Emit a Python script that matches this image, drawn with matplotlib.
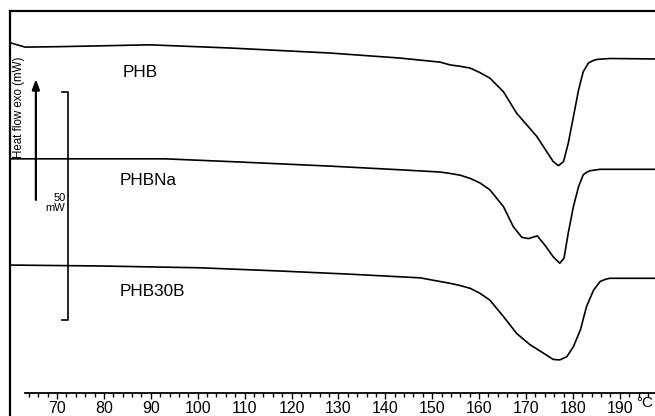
import matplotlib
matplotlib.use("Agg")
import matplotlib.pyplot as plt
from matplotlib.ticker import MultipleLocator

plt.rcParams['font.family'] = ['Liberation Sans', 'DejaVu Sans']

# Temperature (°C) and heat flow (mW, curves vertically offset)
phb_T = [60.2, 63.2, 70.6, 89.8, 106.9, 128.2, 143.1, 151.7, 153.8, 155.9, 158.1, 160.2,
         162.3, 165.2, 168.0, 170.2, 172.3, 174.4, 175.8, 176.9, 178.0, 179.0, 180.1,
         181.2, 182.2, 183.3, 184.2, 185.1, 187.9, 197.5]
phb_H = [81.8, 80.9, 81.0, 81.4, 80.7, 79.6, 78.5, 77.6, 77.0, 76.7, 76.3, 75.3,
         74.1, 71.1, 66.4, 63.8, 61.3, 58.0, 55.8, 54.9, 55.8, 59.8, 65.6,
         71.5, 75.5, 77.4, 77.9, 78.2, 78.4, 78.3]

phbna_T = [60.2, 72.8, 93.0, 109.0, 128.2, 143.1, 151.7, 153.8, 156.0, 158.1, 160.2, 162.3,
           165.2, 167.3, 169.1, 170.5, 172.4, 174.0, 175.8, 177.2, 178.1, 179.0, 180.1,
           181.2, 182.2, 183.0, 183.7, 185.8, 197.5]
phbna_H = [56.4, 56.4, 56.4, 55.7, 54.8, 54.0, 53.5, 53.2, 52.8, 52.1, 51.1, 49.6,
           45.9, 41.5, 39.2, 38.9, 39.5, 37.5, 34.9, 33.5, 34.6, 40.1, 45.9,
           50.3, 52.9, 53.5, 53.8, 54.1, 54.1]

phb30b_T = [60.2, 79.2, 100.5, 117.5, 132.5, 147.4, 153.8, 156.0, 158.1, 160.2, 162.3,
            165.2, 168.0, 170.9, 173.7, 175.8, 177.2, 178.7, 180.1, 181.6, 182.9, 184.4,
            185.8, 187.0, 187.9, 197.5]
phb30b_H = [33.1, 32.9, 32.5, 31.8, 31.1, 30.3, 29.1, 28.6, 28.0, 26.9, 25.4,
            21.8, 18.1, 15.6, 13.8, 12.4, 12.3, 13.0, 15.2, 18.9, 24.0, 27.6,
            29.5, 30.0, 30.2, 30.2]

names = ["PHB", "PHBNa", "PHB30B"]
label_T = [87.7, 89.4, 90.3]
label_H = [75.4, 51.75, 27.4]

tick_major = list(range(70, 191, 10))

W, H = 655, 416
fig = plt.figure(figsize=(W / 100, H / 100), dpi=100)
ax = fig.add_axes([0, 0, 1, 1])
ax.set_xlim(57.85, 197.5)
ax.set_ylim(0, 91.23)
ax.axis('off')

# frame (left and top)
ax.plot([60.0, 60.0], [0, 88.8], color='black', lw=1.6, solid_capstyle='projecting')
ax.plot([60.0, 197.5], [88.8, 88.8], color='black', lw=1.6, solid_capstyle='projecting')

for T, Hf in [(phb_T, phb_H), (phbna_T, phbna_H), (phb30b_T, phb30b_H)]:
    ax.plot(T, Hf, color='black', lw=1.2, solid_joinstyle='round')

for n, tx, ty in zip(names, label_T, label_H):
    ax.text(tx, ty, n, fontsize=12.3, ha='center', va='center')

# y label and arrow
ax.text(62.0, 67.8, "Heat flow exo (mW)", rotation=90, fontsize=8.3, ha='center', va='center')
ax.annotate("", xy=(65.5, 73.9), xytext=(65.5, 47.4),
            arrowprops=dict(arrowstyle='-|>,head_length=0.6,head_width=0.22', color='black', lw=1.6,
                            shrinkA=0, shrinkB=0))

# 50 mW scale bar
ax.plot([71.07, 72.35, 72.35, 71.07], [71.05, 71.05, 21.05, 21.05], color='black', lw=1.2)
ax.text(71.8, 46.7, "50\nmW", fontsize=8, ha='right', va='center', linespacing=1.0)

# temperature axis
ax2 = fig.add_axes([25 / W, 23 / H, 1 - 25 / W, 0.001])
ax2.set_xlim(63.18, 197.5)
ax2.patch.set_visible(False)
for s in ['top', 'left', 'right']:
    ax2.spines[s].set_visible(False)
ax2.spines['bottom'].set_linewidth(1.3)
ax2.set_yticks([])
ax2.set_xticks(tick_major)
ax2.xaxis.set_minor_locator(MultipleLocator(2))
ax2.tick_params(axis='x', which='major', direction='out', length=4, width=1.0, labelsize=11.5, pad=1.5)
ax2.tick_params(axis='x', which='minor', direction='out', length=3, width=1.0)
fig.text(653 / W, 1 - 403 / H, "°C", fontsize=11, ha='right', va='center')

fig.savefig("out.png", dpi=100)
